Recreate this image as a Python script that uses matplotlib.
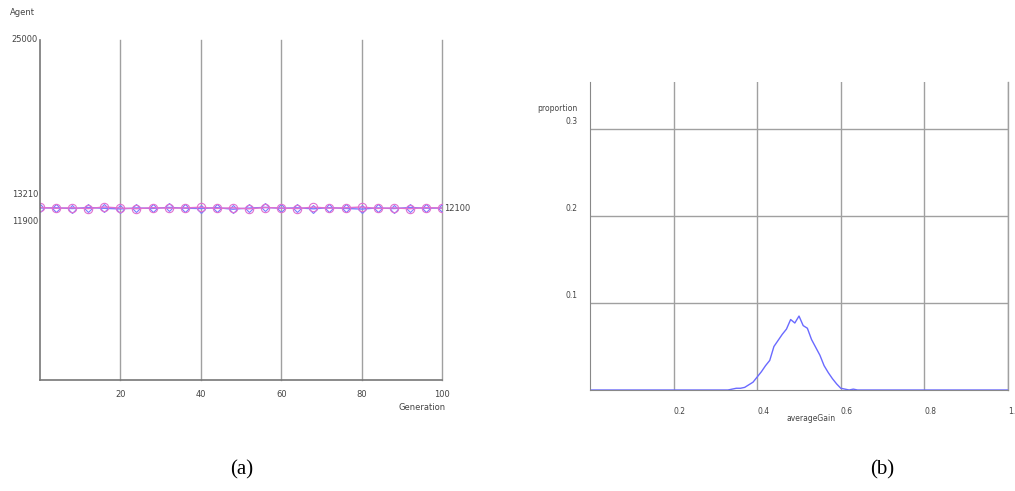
import numpy as np
import matplotlib.pyplot as plt

# --- (a) agent count per generation ---
generation = [0, 4, 8, 12, 16, 20, 24, 28, 32, 36, 40, 44, 48, 52, 56, 60,
              64, 68, 72, 76, 80, 84, 88, 92, 96, 100]
agents_pink = [12150, 12080, 12120, 12060, 12180, 12100, 12050, 12130, 12090, 12110, 12160, 12070,
               12120, 12040, 12140, 12100, 12060, 12170, 12090, 12120, 12180, 12070, 12110, 12050, 12130, 12100]
agents_blue = [12100, 12120, 12060, 12140, 12080, 12030, 12110, 12070, 12150, 12090, 12060, 12130,
               12010, 12100, 12150, 12080, 12120, 12040, 12130, 12070, 12020, 12110, 12060, 12140, 12090, 12100]
gen_ticks = [20, 40, 60, 80, 100]

# --- (b) distribution of averageGain ---
gain_bins = list(np.round(np.arange(0.32, 0.665, 0.01), 2))
gain_prop = [0.000, 0.000, 0.001, 0.002, 0.002, 0.003, 0.006, 0.009, 0.015, 0.021,
             0.028, 0.034, 0.050, 0.057, 0.064, 0.070, 0.081, 0.077, 0.085, 0.074,
             0.071, 0.058, 0.049, 0.040, 0.028, 0.020, 0.013, 0.007, 0.002, 0.001,
             0.000, 0.001, 0.000, 0.000, 0.000]
gain_x = [0.0] + gain_bins + [1.0]
gain_y = [0.0] + gain_prop + [0.0]
gain_ticks = [0.2, 0.4, 0.6, 0.8, 1.0]
gain_labels = ["0.2", "0.4", "0.6", "0.8", "1."]
prop_ticks = [0.1, 0.2, 0.3]

W, H = 1015, 491
fig = plt.figure(figsize=(W / 100, H / 100), dpi=100)
grid_c = "#a0a0a0"
txt_c = "#444444"
fs = 6

# Plot (a)
ax1 = fig.add_axes([40 / W, (H - 380) / H, 402 / W, 340 / H])
for g in gen_ticks:
    ax1.axvline(g, color=grid_c, lw=1, zorder=0, clip_on=False)
ax1.plot(generation, agents_blue, color="#7a7aff", lw=1, marker="D", ms=4,
         mfc="none", mew=0.8)
ax1.plot(generation, agents_pink, color="#e070d0", lw=1, marker="o", ms=6,
         mfc="none", mew=0.8)
ax1.set_xlim(0, 100)
ax1.set_ylim(-1100, 25000)
for s in ["top", "right"]:
    ax1.spines[s].set_visible(False)
for s in ["left", "bottom"]:
    ax1.spines[s].set_color("#777777")
    ax1.spines[s].set_linewidth(1.2)
ax1.set_xticks(gen_ticks)
ax1.set_xticklabels([str(g) for g in gen_ticks])
ax1.set_yticks([])
ax1.tick_params(axis="x", length=0, labelsize=fs, labelcolor=txt_c, pad=7)
ax1.text(-0.005, 1.0, "25000", transform=ax1.transAxes, ha="right", va="center", fontsize=fs, color=txt_c)
ax1.text(-0.075, 1.08, "Agent", transform=ax1.transAxes, ha="left", va="center", fontsize=fs, color=txt_c)
ax1.text(-0.005, 0.547, "13210", transform=ax1.transAxes, ha="right", va="center", fontsize=fs, color=txt_c)
ax1.text(-0.005, 0.465, "11900", transform=ax1.transAxes, ha="right", va="center", fontsize=fs, color=txt_c)
ax1.text(1.005, 0.505, "12100", transform=ax1.transAxes, ha="left", va="center", fontsize=fs, color=txt_c)
ax1.text(1.01, -0.08, "Generation", transform=ax1.transAxes, ha="right", va="center", fontsize=fs, color=txt_c)

# Plot (b)
ax2 = fig.add_axes([590 / W, (H - 390) / H, 418 / W, 308 / H])
ax2.plot(gain_x, gain_y, color="#6a6aff", lw=1)
ax2.set_xlim(0, 1.0)
ax2.set_ylim(0, 0.354)
ax2.set_xticks(gain_ticks)
ax2.set_xticklabels(gain_labels)
ax2.set_yticks(prop_ticks)
ax2.set_yticklabels([])
ax2.grid(True, color=grid_c, lw=1)
ax2.axvline(1.0, color=grid_c, lw=1, zorder=0, clip_on=False)
ax2.set_axisbelow(True)
ax2.spines["top"].set_visible(False)
ax2.spines["right"].set_visible(False)
ax2.spines["left"].set_color("#888888")
ax2.spines["bottom"].set_color("#888888")
ax2.tick_params(length=0, labelsize=fs - 0.5, labelcolor=txt_c, pad=12)
for lbl in ax2.get_xticklabels():
    lbl.set_ha("left")
for p in prop_ticks:
    ax2.text(-0.03, p + 0.009, f"{p:.1f}", transform=ax2.get_yaxis_transform(),
             ha="right", va="center", fontsize=fs - 0.5, color=txt_c)
ax2.text(-0.03, 0.3 + 0.0235, "proportion", transform=ax2.get_yaxis_transform(),
         ha="right", va="center", fontsize=fs - 0.5, color=txt_c)
ax2.text(0.528, -0.092, "averageGain", transform=ax2.transAxes, ha="center", va="center",
         fontsize=fs - 0.5, color=txt_c)

fig.text(242 / W, 1 - 470 / H, "(a)", family="Liberation Serif", fontsize=15, ha="center", va="center")
fig.text(882 / W, 1 - 470 / H, "(b)", family="Liberation Serif", fontsize=15, ha="center", va="center")

fig.savefig("out.png", dpi=100)
